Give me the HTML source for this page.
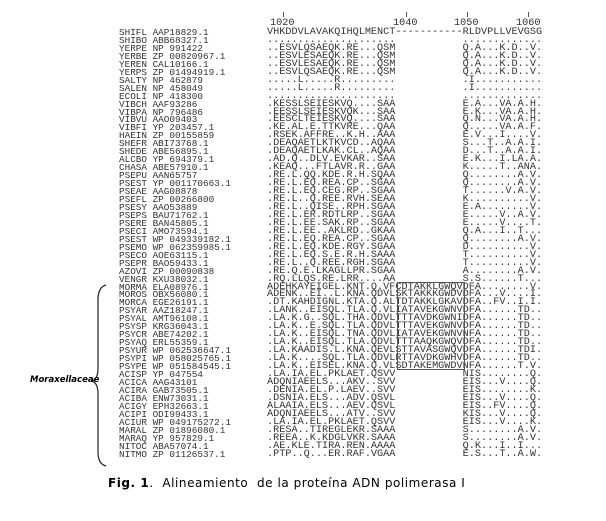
<!DOCTYPE html>
<html><head><meta charset="utf-8"><style>
html,body{margin:0;padding:0;background:#fff;width:606px;height:521px;overflow:hidden;position:relative}
pre{margin:0;position:absolute;font-family:"Liberation Mono",monospace;color:#333;line-height:7.95px}
#names{left:119px;top:29px;font-size:9.33px}
#seq{left:267px;top:29px;font-size:10.2px}
.n{position:absolute;font-family:"Liberation Mono",monospace;font-size:10.2px;color:#333;top:18px;line-height:12px}
.t{position:absolute;width:1px;height:5px;background:#555;top:12px}
#box{position:absolute;left:397px;top:282px;width:66px;height:86px;border:1px solid #555}
#lab{position:absolute;left:30px;top:375px;font-family:"DejaVu Sans",sans-serif;font-size:8.5px;font-style:italic;font-weight:bold;color:#000}
#cap{position:absolute;left:108px;top:476px;font-family:"DejaVu Sans",sans-serif;font-size:12px;letter-spacing:0.55px;color:#000;white-space:pre}
</style></head><body>
<div class="t" style="left:283px"></div><div class="t" style="left:406px"></div><div class="t" style="left:467px"></div><div class="t" style="left:528px"></div>
<div class="n" style="left:270px">1020</div><div class="n" style="left:393px">1040</div><div class="n" style="left:454px">1050</div><div class="n" style="left:516px">1060</div>
<pre id="names">SHIFL AAP18829.1
SHIBO ABB68327.1
YERPE NP 991422
YERBE ZP 00820967.1
YEREN CAL10166.1
YERPS ZP 01494919.1
SALTY NP 462879
SALEN NP 458049
ECOLI NP 418300
VIBCH AAF93286
VIBPA NP 796486
VIBVU AAO09403
VIBFI YP 203457.1
HAEIN ZP 00155859
SHEFR ABI73768.1
SHEDE ABE56895.1
ALCBO YP 694379.1
CHASA ABE57910.1
PSEPU AAN65757
PSEST YP 001170663.1
PSEAE AAG08878
PSEFL ZP 00266800
PSESY AAO53889
PSEPS BAU71762.1
PSERE BAN45805.1
PSECI AMO73594.1
PSEST WP 049339182.1
PSEMO WP 062359985.1
PSECO AOE63115.1
PSEPR BAO59433.1
AZOVI ZP 00090838
VENGR KXU38032.1
MORMA ELA08976.1
MOROS OBX56080.1
MORCA EGE26191.1
PSYAR AAZ18247.1
PSYAL AMT96108.1
PSYSP KRG36043.1
PSYCR ABE74202.1
PSYAQ ERL55359.1
PSYUR WP 062536647.1
PSYPI WP 058025765.1
PSYPE WP 051584545.1
ACISP YP 047554
ACICA AAG43101
ACIRA GAB73505.1
ACIBA ENW73031.1
ACIGY EPH32663.1
ACIPI ODI99433.1
ACIUR WP 049175272.1
MARAL ZP 01896080.1
MARAQ YP 957829.1
NITOC ABA57074.1
NITMO ZP 01126537.1</pre>
<pre id="seq">VHKDDVLAVAKQIHQLMENCT-----------RLDVPLLVEVGSG
.....................           .............
..ESVLQSAEQK.RE...QSM           Q.A...K.D..V.
..ESVLESAEQK.RE...QSM           Q.A...K.D..V.
..ESVLESAEQK.RE...QSM           Q.A...K.D..V.
..ESVLQSAEQK.RE...QSM           Q.A...K.D..V.
.....L.....R.........           .I...........
.....L.....R.........           .I...........
.....................           .............
.KESSLSEIESKVQ....SAA           E.A...VA.A.H.
.EESSLSEIESKVQK...SAA           E.K...VA.A.H.
.EESCLTEIESKVQ....SAA           Q.N...VA.A.H.
.KE.AL.E.TTKVRE...QAA           Q.....VA.A.F.
.RSEK.AFFRE..K.H..AAA           E.V...I....V.
.DEAQAETLKTKVCD..AQAA           S...T..A.A.I.
.DEAQAETLKAK.CL..AQAA           D...T..A.A.I.
.AD.Q..DLV.EVKAR..SAA           E.K...I.LA.A.
.KEAQ...FTLAVR.R..GAA           K.....T..ANA.
.RE.L.QQ.KDE.R.H.SQAA           Q........A.V.
.RE.L.EQ.REA.CP..SGAA           Q........A.V.
.RE.L.EQ.CEG.RP..SGAA           T......V.A.V.
.RE.L..Q.REE.RVH.SEAA           K..........V.
.RE.L..QISE..RPH.SGAA           E.A........V.
.RE.L.ER.RDTLRP..SGAA           E.....V..A.V.
.RE.L.EE.SAK.RP..SGAA           E.....V....T.
.RE.L.EE..AKLRD..GKAA           Q.A...I..T...
.RE.L.EQ.REA.CP..SGAA           Q........A.V.
.RE.L.EQ.KDE.RGY.SGAA           D..........V.
.RE.L.EQ.S.E.R.H.SAAA           T..........V.
.RE.L..Q.REE.RGH.SGAA           T..........V.
.RE.Q.E.LKAGLLPR.SGAA           A........A.V.
.RQ.LLQS.RE.LRR....AA           S.S......T...
ADEHKAYEIGEL.KNT.Q.VFCDTAKKLGWQVDFA........V.
ADENK..EI..L.KNA.QDVLSKTAKKKGWDVDFA...V....I.
.DT.KAHDIGNL.KTA.Q.ALTDTAKKLGKAVDFA..FV..I.I.
.LANK..EISQL.TLA.Q.VLIATAVEKGWNVDFA......TD..
.LA.K.G..SQL.THA.QDVLTTTAVDKGWNIDFA......TD..
.LA.K..E.SQL.TLA.QDVLTTTAVEKGWNVDFA......TD..
.LA.K..EISQL.TNA.QDVLIATAVEKGWNVNFA......TD..
.LA.K..EISQL.TLA.QDVLTTTAAQKGWQVDFA......TD..
.LA.KAADIS.L.KNA.QEVLSTTAVASGWQVDFA......TDI.
.LA.K....SQL.TLA.QDVLRTTAVDKGWHVDFA......TD..
.LA.K..EISEL.KNA.Q.VLSDTAKEMGWDVNFA......T.V.
.LA.IA.EL.PKLAET.QSVV           NIS........Q.
ADQNIAEELS...AKV..SVV           EIS...V....Q.
.DENIA.EL.P.LAEV..SVV           EIS........K.
.DSNIA.ELS...ADV.QSVL           EIS...V....Q.
ALAAIA.ELS...AEV.QSVL           EIS..FV....Q.
ADQNIAEELS...ATV..SVV           KIS...V....Q.
.LA.IA.EL.PKLAET.QSVV           EIS...V....K.
.RESA..TIREGLEKR.SAAA           S........A.V.
.REEA..K.KDGLVKR.SAAA           S........A.V.
.AE.KLE.TIRA.REN.AAAA           Q.K...I..I...
.PTP..Q...ER.RAF.VGAA           E.S...T..A.W.</pre>
<div id="box"></div>
<svg style="position:absolute;left:0;top:0" width="606" height="521">
<path d="M106,285 Q98,287 98,300 L98,368 Q98,380 91,381 Q98,382 98,394 L98,452 Q98,464 106,466" fill="none" stroke="#222" stroke-width="1.2"/>
</svg>
<div id="lab">Moraxellaceae</div>
<div id="cap"><b>Fig. 1</b>.  Alineamiento  de la proteína ADN polimerasa I</div>
</body></html>
